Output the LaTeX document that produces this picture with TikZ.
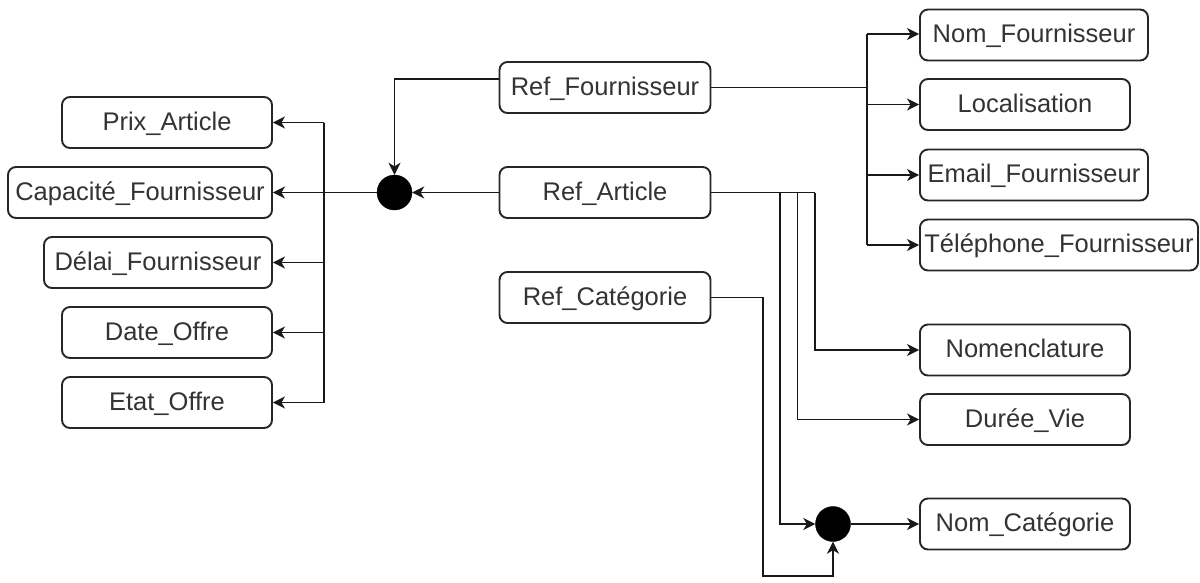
\documentclass[tikz,border=0pt]{standalone}
\usepackage{fontspec}
\setmainfont{Liberation Sans}
\usetikzlibrary{arrows.meta}
\begin{document}
\begin{tikzpicture}[x=1pt,y=-1pt,
  box/.style={draw=black!85, rounded corners=8pt, line width=1.9pt, minimum height=51pt,
    inner sep=0pt, text=black!80, text height=20.4pt, text depth=5.4pt,
    font=\fontsize{25.5pt}{30pt}\selectfont},
  dot/.style={circle, fill=black, draw=black, minimum size=35pt, inner sep=0pt},
  conn/.style={line width=1.9pt, draw=black!90},
  >={Stealth[length=12pt,width=12pt,inset=3.5pt]}]
\useasboundingbox (0,0) rectangle (1200,582);

% left column
\node[box, minimum width=210pt] (prix)  at (167,122.5) {Prix\_Article};
\node[box, minimum width=264pt] (cap)   at (140,192.5) {Capacité\_Fournisseur};
\node[box, minimum width=228pt] (delai) at (158,262.5) {Délai\_Fournisseur};
\node[box, minimum width=210pt] (date)  at (167,332.5) {Date\_Offre};
\node[box, minimum width=210pt] (etat)  at (167,402.5) {Etat\_Offre};

% middle column
\node[box, minimum width=211pt] (rf) at (605,87.5)  {Ref\_Fournisseur};
\node[box, minimum width=211pt] (ra) at (605,192.5) {Ref\_Article};
\node[box, minimum width=211pt] (rc) at (605,297.5) {Ref\_Catégorie};

% right column
\node[box, minimum width=228pt] (nf)  at (1034,35)  {Nom\_Fournisseur};
\node[box, minimum width=210pt] (loc) at (1025,104.5) {Localisation};
\node[box, minimum width=228pt] (ef)  at (1034,175)  {Email\_Fournisseur};
\node[box, minimum width=278pt] (tf)  at (1059,245)  {Téléphone\_Fournisseur};
\node[box, minimum width=210pt] (nom) at (1025,350)  {Nomenclature};
\node[box, minimum width=210pt] (dv)  at (1025,419.5) {Durée\_Vie};
\node[box, minimum width=210pt] (nc)  at (1025,524)  {Nom\_Catégorie};

% junction dots
\node[dot] (d1) at (394.5,192.5) {};
\node[dot] (d2) at (833,524) {};

% bus coordinates
\coordinate (b1) at (324,0);
\coordinate (b2) at (867,0);
\coordinate (c1) at (815,0);
\coordinate (c2) at (797.5,0);
\coordinate (c3) at (780,0);
\coordinate (c5) at (763,576);

% Ref_Fournisseur and Ref_Article into d1
\draw[conn,->] ([yshift=8.5pt]rf.west) -| (d1.north);
\draw[conn,->] (ra.west) -- (d1.east);

% d1 to left column
\draw[conn] (d1.west) -- (d1.west -| b1);
\draw[conn] (prix.east -| b1) -- (etat.east -| b1);
\draw[conn,->] (prix.east -| b1) -- (prix.east);
\draw[conn,->] (d1.west) -- (cap.east);
\draw[conn,->] (delai.east -| b1) -- (delai.east);
\draw[conn,->] (date.east -| b1) -- (date.east);
\draw[conn,->] (etat.east -| b1) -- (etat.east);

% Ref_Fournisseur to right column
\draw[conn] (rf.east) -- (rf.east -| b2);
\draw[conn] ([yshift=1pt]nf.west -| b2) -- (tf.west -| b2);
\draw[conn,->] ([yshift=1pt]nf.west -| b2) -- ([yshift=1pt]nf.west);
\draw[conn,->] (loc.west -| b2) -- (loc.west);
\draw[conn,->] (ef.west -| b2) -- (ef.west);
\draw[conn,->] (tf.west -| b2) -- (tf.west);

% Ref_Article branches
\draw[conn] (ra.east) -- (ra.east -| c1);
\draw[conn,->] (ra.east -| c1) |- (nom.west);
\draw[conn,->] (ra.east -| c2) |- (dv.west);
\draw[conn,->] (ra.east -| c3) |- (d2.west);

% Ref_Categorie into d2
\draw[conn,->] (rc.east) -| (c5) -| (d2.south);

% d2 to Nom_Categorie
\draw[conn,->] (d2.east) -- (nc.west);
\end{tikzpicture}
\end{document}
